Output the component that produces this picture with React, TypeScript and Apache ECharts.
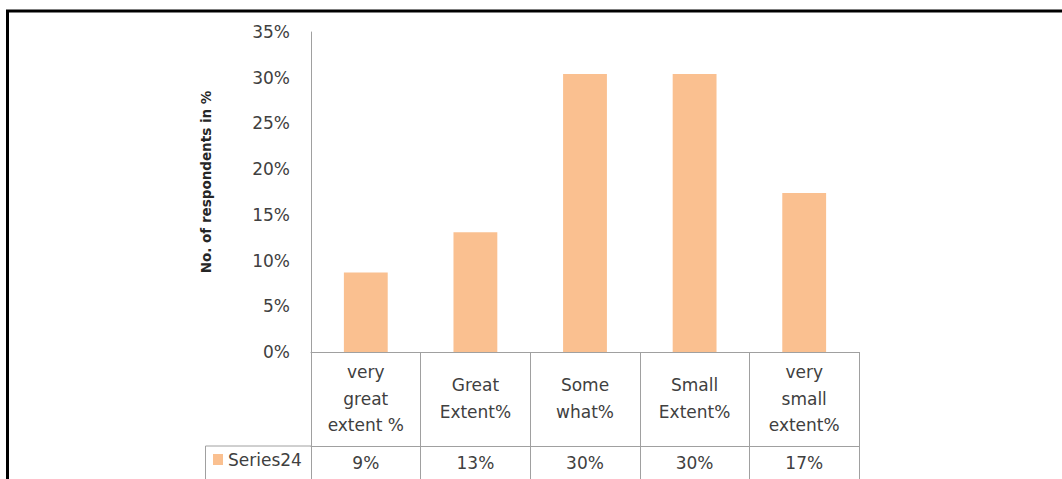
import React, { useEffect, useRef } from "react";
import * as echarts from "echarts";

// Survey answers: share of respondents per response category
const categories = [
  "very\ngreat\nextent %",
  "Great\nExtent%",
  "Some\nwhat%",
  "Small\nExtent%",
  "very\nsmall\nextent%",
];
const seriesName = "Series24";
const values = [8.7, 13.1, 30.4, 30.4, 17.4];
const yTicks = { min: 0, max: 35, interval: 5 };
const yTitle = "No. of respondents in %";

const FONT = "DejaVu Sans";
const TEXT = "#404040";
const RULE = "#a0a0a0";
const BAR = "#FAC090";

export default function App() {
  const ref = useRef<HTMLDivElement>(null);

  useEffect(() => {
    if (!ref.current) return;
    const chart = echarts.init(ref.current, null, { renderer: "svg" });

    chart.setOption({
      animation: false,
      backgroundColor: "#ffffff",
      grid: { left: 311, right: 203, top: 32, bottom: 127, containLabel: false },
      legend: {
        data: [seriesName],
        left: 213,
        top: 451,
        padding: 0,
        icon: "rect",
        itemWidth: 10,
        itemHeight: 11,
        selectedMode: false,
        textStyle: { fontFamily: FONT, fontSize: 17, color: TEXT },
      },
      xAxis: [
        {
          type: "category",
          data: categories,
          position: "bottom",
          axisLine: { show: true, lineStyle: { color: RULE, width: 1 } },
          axisTick: {
            show: true,
            interval: 0,
            alignWithLabel: false,
            length: 130,
            lineStyle: { color: RULE, width: 1 },
          },
          axisLabel: {
            interval: 0,
            margin: 46.5,
            verticalAlign: "middle",
            lineHeight: 26.7,
            fontFamily: FONT,
            fontSize: 17,
            color: TEXT,
          },
          splitLine: { show: false },
        },
        {
          // value row of the data table
          type: "category",
          data: categories,
          position: "bottom",
          offset: 94,
          axisLine: { show: true, lineStyle: { color: RULE, width: 1 } },
          axisTick: { show: false },
          axisLabel: {
            interval: 0,
            margin: 16.5,
            verticalAlign: "middle",
            fontFamily: FONT,
            fontSize: 17,
            color: TEXT,
            formatter: (_v: string, i: number) => `${Math.round(values[i])}%`,
          },
          splitLine: { show: false },
        },
      ],
      yAxis: {
        type: "value",
        min: yTicks.min,
        max: yTicks.max,
        interval: yTicks.interval,
        name: yTitle,
        nameLocation: "middle",
        nameRotate: 90,
        nameGap: 98,
        nameTextStyle: {
          fontFamily: FONT,
          fontSize: 13.5,
          fontWeight: "bold",
          color: "#262626",
          padding: [0, 0, 0, 20],
        },
        axisLine: { show: true, lineStyle: { color: RULE, width: 1 } },
        axisTick: { show: false },
        splitLine: { show: false },
        axisLabel: {
          margin: 21,
          fontFamily: FONT,
          fontSize: 17,
          color: TEXT,
          formatter: (v: number) => `${v}%`,
        },
      },
      series: [
        {
          name: seriesName,
          type: "bar",
          xAxisIndex: 0,
          data: values,
          barWidth: "40%",
          itemStyle: { color: BAR },
          label: { show: false },
        },
      ],
      graphic: [
        // outer frame
        {
          type: "rect",
          silent: true,
          shape: { x: 7.5, y: 11, width: 2000, height: 2000 },
          style: { fill: "none", stroke: "#000000", lineWidth: 3 },
        },
        // legend key cell of the data table
        {
          type: "line",
          silent: true,
          shape: { x1: 205.5, y1: 446, x2: 311, y2: 446 },
          style: { stroke: RULE, lineWidth: 1 },
        },
        {
          type: "line",
          silent: true,
          shape: { x1: 205.5, y1: 446, x2: 205.5, y2: 479 },
          style: { stroke: RULE, lineWidth: 1 },
        },
      ],
    });

    return () => chart.dispose();
  }, []);

  return (
    <div
      ref={ref}
      style={{ position: "absolute", left: 0, top: 0, width: 1062, height: 479 }}
    />
  );
}
